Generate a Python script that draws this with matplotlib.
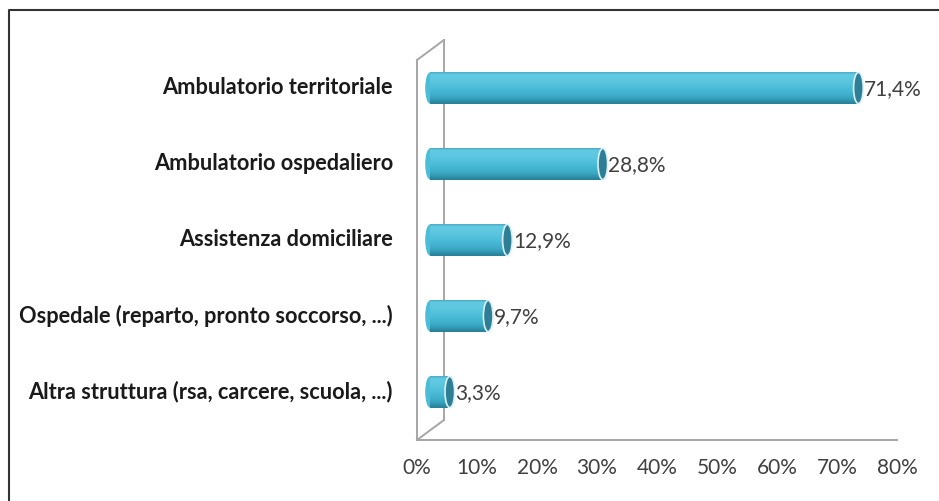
import matplotlib.pyplot as plt
import matplotlib.transforms as mtransforms
from matplotlib.patches import Ellipse
from matplotlib.lines import Line2D
from matplotlib.colors import LinearSegmentedColormap

categories = ['Altra struttura (rsa, carcere, scuola, ...)',
              'Ospedale (reparto, pronto soccorso, ...)',
              'Assistenza domiciliare',
              'Ambulatorio ospedaliero',
              'Ambulatorio territoriale']
values = [3.3, 9.7, 12.9, 28.8, 71.4]
value_labels = ['3,3%', '9,7%', '12,9%', '28,8%', '71,4%']
xticks = [0, 10, 20, 30, 40, 50, 60, 70, 80]
xtick_labels = ['0%', '10%', '20%', '30%', '40%', '50%', '60%', '70%', '80%']

plt.rcParams['font.family'] = ['Lato', 'DejaVu Sans']

W, H = 939, 501
fig = plt.figure(figsize=(W / 100, H / 100), dpi=100)
ax = fig.add_axes([417 / W, (H - 440) / H, 480 / W, 380 / H])
ax.set_xlim(0, 80)
ax.set_ylim(-0.5, 4.5)

# 3D look: bars sit halfway into the depth, back wall at full depth
half = mtransforms.ScaledTranslation(13 / 100, 10 / 100, fig.dpi_scale_trans)
full = mtransforms.ScaledTranslation(27 / 100, 20 / 100, fig.dpi_scale_trans)
bar_trans = ax.transData + half

# wall and floor lines
wall_col = '#a6a6a6'
ax.plot([0, 0], [0, 1], color=wall_col, lw=1.4, transform=ax.transAxes + full, clip_on=False)
for yy in (0, 1):
    p0 = ax.transAxes.transform((0, yy))
    ax.add_artist(Line2D([p0[0], p0[0] + 27], [p0[1], p0[1] + 20], color=wall_col, lw=1.4,
                         transform=None, clip_on=False))

for s in ['top', 'right']:
    ax.spines[s].set_visible(False)
for s in ['left', 'bottom']:
    ax.spines[s].set_color(wall_col)
    ax.spines[s].set_linewidth(1.4)

# cylinder bars: stacked strips for shading (top -> bottom)
bh = 0.41
cyl = LinearSegmentedColormap.from_list('cyl', [
    (0.0, '#4aa9c2'), (0.08, '#62c9e2'), (0.3, '#5ac5df'), (0.55, '#48bad6'),
    (0.8, '#3aa8c4'), (0.93, '#2f91ab'), (1.0, '#2a7f96')])
n = 30
cap_w = 1.6
for i, v in enumerate(values):
    for k in range(n):
        y0 = i + bh / 2 - (k + 1) * bh / n
        ax.barh(y0, v, height=bh / n * 1.05, align='edge', color=cyl((k + 0.5) / n), lw=0,
                antialiased=False, transform=bar_trans, zorder=3)
    ax.add_patch(Ellipse((0, i), cap_w, bh, facecolor='#4cbdd8', edgecolor='none',
                         transform=bar_trans, zorder=2))
    ax.add_patch(Ellipse((v, i), cap_w, bh, facecolor='#2e7f95', edgecolor='#d8f0f6',
                         lw=1.2, transform=bar_trans, zorder=4))
    ax.annotate(value_labels[i], xy=(v, i), xycoords=bar_trans, xytext=(4, -1),
                textcoords='offset points', ha='left', va='center',
                fontsize=15, color='#404040')
    ax.text(-37 / 480, i, categories[i], transform=ax.get_yaxis_transform() + half,
            ha='right', va='center', fontsize=15.7, fontweight='bold', color='#1a1a1a')

ax.set_yticks([])
ax.set_xticks(xticks)
ax.set_xticklabels(xtick_labels)
ax.tick_params(axis='x', length=0, pad=13, labelsize=15, labelcolor='#404040')

# frame lines (left and top)
fig.add_artist(Line2D([9 / W, 9 / W, 1], [0, 1 - 10 / H, 1 - 10 / H], color='#333333', lw=1.5))

fig.savefig('out.png', dpi=100)
